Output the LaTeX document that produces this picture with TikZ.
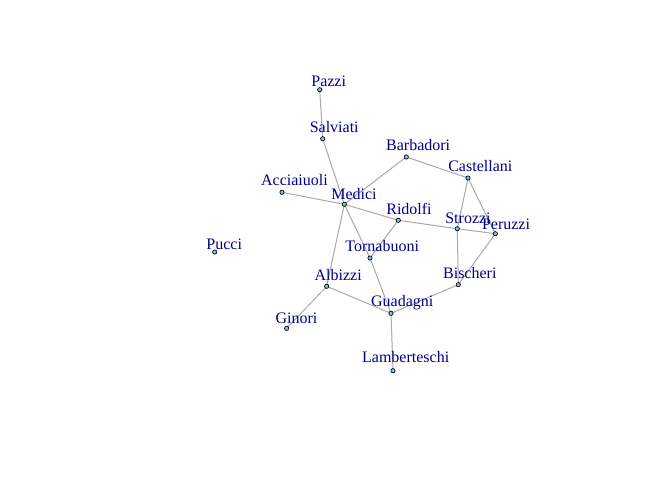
\documentclass[tikz,border=0pt]{standalone}
\usepackage{fontspec}
\setmainfont{Liberation Serif}
\usetikzlibrary{backgrounds}
\definecolor{famblue}{RGB}{0,0,139}
\definecolor{vertfill}{RGB}{126,192,238}
\definecolor{edgegrey}{RGB}{169,169,169}
\tikzset{
    vert/.style={circle, draw=black, fill=vertfill, line width=0.5pt, inner sep=0pt, minimum size=3.2pt},
    famlabel/.style={text=famblue, font=\fontsize{12}{14}\selectfont, inner sep=0pt, text height=7.9pt, text depth=0pt},
    tie/.style={draw=edgegrey, line width=0.75pt}
}
\begin{document}
\begin{tikzpicture}[x=0.75pt, y=-0.75pt]
    \useasboundingbox (0,0) rectangle (672,480);
    % families with their label offsets
    \foreach \n/\x/\y/\dx/\dy/\t in {
        pazzi/319.7/89.7/9.0/8.4/Pazzi,
        salviati/322.7/138.7/11.5/11/Salviati,
        barbadori/406.3/157/11.9/11.5/Barbadori,
        castellani/468/178/12.3/11.3/Castellani,
        acciaiuoli/282/192.3/12.5/11.8/Acciaiuoli,
        medici/344.3/204.3/9.7/10/Medici,
        ridolfi/398.3/220.3/10.7/10.8/Ridolfi,
        strozzi/457.3/228.7/10.7/10.4/Strozzi,
        peruzzi/495.3/233.7/10.7/9.7/Peruzzi,
        tornabuoni/370/258/12.2/11.5/Tornabuoni,
        pucci/214.7/252/9.5/8.2/Pucci,
        albizzi/326.7/286.3/11.5/10.7/Albizzi,
        bischeri/458.3/284.7/11.5/11/Bischeri,
        guadagni/391/313.3/11.2/11.6/Guadagni,
        ginori/286.7/328.3/9.8/10/Ginori,
        lamberteschi/393/370.7/12.7/13.2/Lamberteschi}
    {
        \node[vert] (\n) at (\x, \y) {};
        \node[famlabel] (\n-l) at ([shift={(\dx, -\dy)}]\n) {\t};
    }
    % marriage ties
    \begin{pgfonlayer}{background}
        \foreach \a/\b in {acciaiuoli/medici, albizzi/ginori, albizzi/guadagni, albizzi/medici,
            barbadori/castellani, barbadori/medici, bischeri/guadagni, bischeri/peruzzi,
            bischeri/strozzi, castellani/peruzzi, castellani/strozzi, guadagni/lamberteschi,
            guadagni/tornabuoni, medici/ridolfi, medici/salviati, medici/tornabuoni,
            pazzi/salviati, peruzzi/strozzi, ridolfi/strozzi, ridolfi/tornabuoni}
            \draw[tie] (\a.center) -- (\b.center);
    \end{pgfonlayer}
\end{tikzpicture}
\end{document}
